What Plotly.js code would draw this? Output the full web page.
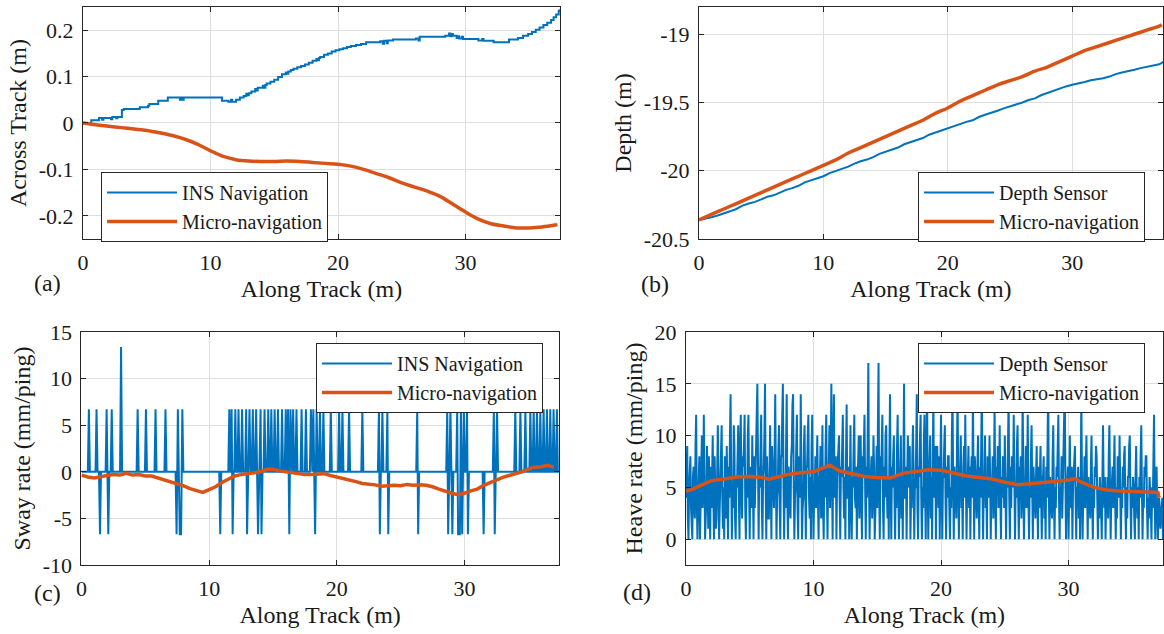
<!DOCTYPE html>
<html><head><meta charset="utf-8">
<script src="https://cdn.plot.ly/plotly-3.0.1.min.js"></script>
<style>html,body{margin:0;padding:0;background:#fff}#chart{width:1164px;height:634px}</style>
</head><body><div id="chart"></div>
<script>
// ---------- Panel (a): Across track ----------
const aInsX = [0,0.65,1.25,1.5,1.6,2.2,2.3,2.6,2.7,3.05,3.2,4.45,5.1,5.2,5.9,6.65,7.6,7.7,7.8,7.9,10.9,11.4,11.6,11.7,12.0,12.3,12.6,12.8,12.9,13.0,13.2,13.5,13.6,13.7,14.1,14.2,14.3,14.4,14.7,15.0,15.3,15.6,15.9,16.0,16.1,16.3,16.5,16.8,17.1,17.4,17.7,18.0,18.3,18.4,18.5,18.6,18.9,19.2,19.5,19.8,20.1,20.4,20.7,21.0,21.4,21.8,22.2,23.3,23.5,23.6,23.8,23.9,24.3,26.1,26.3,26.4,28.4,28.7,28.8,28.9,29.0,29.3,29.4,29.5,29.7,29.8,31.0,31.3,31.4,32.2,33.4,34.1,34.5,34.9,35.2,35.5,35.8,36.1,36.4,36.7,36.9,37.1,37.3,37.4];
const aInsY = [0,0.006,0.011,0.007,0.011,0.008,0.013,0.010,0.013,0.028,0.030,0.034,0.037,0.041,0.048,0.055,0.050,0.055,0.050,0.055,0.048,0.046,0.050,0.046,0.050,0.055,0.058,0.063,0.060,0.064,0.068,0.073,0.070,0.076,0.080,0.076,0.082,0.085,0.089,0.093,0.099,0.105,0.109,0.106,0.111,0.114,0.117,0.120,0.123,0.126,0.130,0.134,0.138,0.135,0.140,0.142,0.147,0.150,0.154,0.157,0.159,0.161,0.164,0.166,0.168,0.170,0.174,0.176,0.171,0.177,0.172,0.178,0.180,0.182,0.178,0.186,0.188,0.193,0.187,0.192,0.188,0.183,0.187,0.182,0.186,0.181,0.178,0.181,0.177,0.174,0.180,0.183,0.188,0.192,0.196,0.201,0.206,0.211,0.216,0.222,0.228,0.234,0.242,0.245];
const aMicroX = [0,1,2,3,4,5,6,7,8,9,10,11,12,13,14,15,16,17,18,19,20,21,22,23,24,25,26,27,28,29,30,31,32,33,34,35,36,37,37.2];
const aMicroY = [0,-0.004,-0.007,-0.010,-0.013,-0.016,-0.021,-0.027,-0.035,-0.046,-0.060,-0.072,-0.079,-0.082,-0.083,-0.083,-0.082,-0.083,-0.085,-0.087,-0.089,-0.093,-0.100,-0.109,-0.118,-0.129,-0.138,-0.147,-0.158,-0.175,-0.192,-0.207,-0.217,-0.222,-0.226,-0.226,-0.224,-0.220,-0.219];

// ---------- Panel (b): Depth ----------
const bSensorX = [0,0.5,1,1.5,2,2.5,3,3.5,4,4.5,5,5.5,6,6.5,7,7.5,8,8.5,9,9.5,10,10.5,11,11.5,12,12.5,13,13.5,14,14.5,15,15.5,16,16.5,17,17.5,18,18.5,19,19.5,20,20.5,21,21.5,22,22.5,23,23.5,24,24.5,25,25.5,26,26.5,27,27.5,28,28.5,29,29.5,30,30.5,31,31.5,32,32.5,33,33.5,34,34.5,35,35.5,36,36.5,37,37.4];
const bSensorY = [-20.36,-20.352,-20.34,-20.328,-20.31,-20.297,-20.28,-20.255,-20.24,-20.228,-20.21,-20.19,-20.18,-20.158,-20.14,-20.127,-20.11,-20.085,-20.07,-20.058,-20.04,-20.017,-20.0,-19.988,-19.97,-19.948,-19.93,-19.918,-19.90,-19.876,-19.86,-19.848,-19.83,-19.806,-19.79,-19.778,-19.76,-19.736,-19.72,-19.708,-19.69,-19.672,-19.66,-19.642,-19.63,-19.606,-19.59,-19.577,-19.56,-19.543,-19.53,-19.512,-19.50,-19.482,-19.47,-19.447,-19.43,-19.418,-19.40,-19.382,-19.37,-19.362,-19.35,-19.337,-19.33,-19.322,-19.31,-19.292,-19.28,-19.272,-19.26,-19.248,-19.24,-19.229,-19.22,-19.20];
const bMicroX = [0,1,2,3,4,5,6,7,8,9,10,11,12,13,14,15,16,17,18,19,20,21,22,23,24,25,26,27,28,29,30,31,32,33,34,35,36,37,37.2];
const bMicroY = [-20.36,-20.32,-20.28,-20.24,-20.20,-20.16,-20.12,-20.08,-20.04,-20.00,-19.96,-19.92,-19.87,-19.83,-19.79,-19.75,-19.71,-19.67,-19.63,-19.58,-19.54,-19.49,-19.45,-19.41,-19.37,-19.34,-19.31,-19.27,-19.24,-19.20,-19.16,-19.12,-19.09,-19.06,-19.03,-19.00,-18.97,-18.94,-18.93];

// ---------- Panel (c): Sway rate (INS events: position, value; baseline 0) ----------
const cInsEventX = [0.58,1.18,1.45,1.97,2.1,2.37,3.1,4.4,5.05,5.8,6.58,7.45,7.55,7.7,7.8,7.9,10.87,11.58,11.76,11.84,12.05,12.3,12.58,12.9,12.97,13.16,13.42,13.68,13.83,14.03,14.1,14.34,14.63,14.87,15.13,15.39,15.71,16.0,16.18,16.28,16.37,16.58,16.84,17.24,17.58,17.97,18.16,18.3,18.42,18.68,18.95,19.53,20.18,20.44,20.96,22.0,23.3,23.37,23.57,23.96,24.03,26.3,26.37,28.65,28.72,28.9,29.05,29.43,29.5,29.64,29.72,29.82,29.95,30.2,30.27,31.5,32.3,32.37,32.55,33.98,34.38,34.77,35.16,35.42,35.68,35.94,36.2,36.46,36.72,36.98,37.24];
const cInsEventV = [6.7,6.7,-6.7,6.7,-6.7,6.7,13.4,6.7,6.7,6.7,6.7,-6.7,6.7,-6.7,-6.7,6.7,-6.7,6.7,6.7,-6.7,6.7,6.7,6.7,6.7,-6.7,6.7,6.7,6.7,-6.7,6.7,-6.7,6.7,6.7,6.7,6.7,6.7,6.7,6.7,6.7,-6.7,6.7,6.7,6.7,6.7,6.7,6.7,6.7,-6.7,6.7,6.7,6.7,6.7,6.7,6.7,6.7,6.7,6.7,-6.7,6.7,6.7,-6.7,6.7,-6.7,6.7,-6.7,6.7,-6.7,6.7,-6.7,-6.7,6.7,-6.7,6.7,6.7,-6.7,-6.7,6.7,-6.7,6.7,6.7,6.7,6.7,6.7,6.7,6.7,6.7,6.7,6.7,6.7,6.7,6.7];
const cMicroX = [0,0.5,1,1.5,2,2.5,3,3.5,4,4.5,5,5.5,6,6.5,7,7.5,8,8.5,9,9.5,10,10.5,11,11.5,12,12.5,13,13.5,14,14.5,15,15.5,16,16.5,17,17.5,18,18.5,19,19.5,20,20.5,21,21.5,22,22.5,23,23.5,24,24.5,25,25.5,26,26.5,27,27.5,28,28.5,29,29.5,30,30.5,31,31.5,32,32.5,33,33.5,34,34.5,35,35.5,36,36.5,37];
const cMicroY = [-0.35,-0.55,-0.65,-0.5,-0.4,-0.3,-0.35,-0.15,-0.35,-0.3,-0.45,-0.45,-0.65,-0.85,-1.05,-1.3,-1.5,-1.8,-2.0,-2.2,-1.9,-1.6,-1.15,-0.8,-0.45,-0.3,-0.2,-0.1,0.0,0.25,0.3,0.1,0.0,-0.15,-0.25,-0.3,-0.3,-0.25,-0.2,-0.4,-0.55,-0.7,-0.85,-1.05,-1.25,-1.3,-1.4,-1.55,-1.5,-1.45,-1.5,-1.35,-1.45,-1.4,-1.45,-1.6,-1.85,-2.1,-2.3,-2.45,-2.3,-2.05,-1.85,-1.45,-1.15,-0.9,-0.6,-0.4,-0.2,0.0,0.3,0.5,0.55,0.7,0.5];

// ---------- Panel (d): Heave rate (depth sensor, one value per 0.05 m from 0 m; one row per metre) ----------
const dSensorStep = 0.05;
const dSensorY = [
 4,7,9,2,0,5,6,8,3,1,0,6,7,3,2,9,12,4,0,3,
 5,8,0,3,7,10,3,5,12,6,0,2,4,9,6,1,8,5,0,7,
 3,6,10,4,0,8,5,1,2,9,11,6,0,3,6,7,11,4,1,5,
 0,8,6,2,9,5,0,7,4,10,14,6,0,5,3,11,9,2,0,6,
 5,8,11,4,0,9,12,5,2,8,7,9,12,3,0,6,4,10,12,5,
 0,7,6,3,10,5,0,8,3,6,8,12,15,4,0,7,5,9,12,3,
 0,6,7,10,15,5,0,8,4,2,2,7,11,5,0,9,6,4,3,8,
 14,6,0,4,5,9,11,3,0,8,8,12,15,5,0,6,3,9,14,4,
 0,7,6,3,2,8,9,13,14,5,0,4,5,9,12,3,0,8,7,4,
 14,6,0,3,4,9,11,5,0,7,7,10,12,4,2,6,0,9,12,5,
 0,4,5,8,3,7,10,4,0,6,6,9,2,5,11,3,0,7,4,9,
 12,5,0,6,7,11,3,8,15,6,0,9,14,4,5,8,0,6,8,10,
 10,4,0,7,6,9,12,5,2,6,0,8,13,4,4,7,0,5,11,3,
 0,6,5,9,12,4,3,7,0,5,7,10,2,6,10,4,0,8,6,9,
 12,5,0,7,4,10,17,6,0,5,6,8,2,4,10,7,0,5,5,9,
 3,11,17,5,0,8,6,9,12,3,0,7,4,10,11,5,2,6,0,8,
 14,5,0,7,5,8,10,4,0,6,3,9,12,5,0,4,7,10,2,6,
 0,9,15,4,4,7,0,6,10,5,6,9,0,4,3,8,11,6,0,5,
 5,9,14,3,0,7,6,10,12,4,0,5,3,9,12,5,0,8,15,6,
 0,5,7,10,2,6,0,8,14,4,5,9,0,6,9,5,3,8,0,7,
 12,5,0,6,6,9,11,4,0,7,4,8,8,3,0,5,3,10,14,6,
 0,7,5,3,2,9,14,5,0,6,7,10,3,5,0,7,9,4,12,6,
 0,5,6,9,3,7,0,6,8,4,14,6,0,8,5,3,2,7,10,4,
 0,7,4,9,15,5,0,6,6,10,3,5,0,8,7,4,10,6,0,5,
 5,8,2,6,13,4,0,7,6,9,3,5,11,4,0,6,4,8,7,3,
 10,5,0,6,5,9,14,4,0,7,3,8,7,5,12,6,0,5,4,9,
 11,4,0,7,6,8,2,5,14,6,0,4,5,9,3,6,12,4,0,5,
 4,8,11,5,0,7,5,3,2,6,9,4,0,7,3,6,9,4,0,6,
 6,8,2,5,0,7,4,9,15,5,0,6,5,3,2,8,11,4,0,5,
 3,7,6,9,12,4,0,5,4,8,2,5,8,10,15,6,0,4,5,7,
 0,6,10,4,3,7,0,5,6,8,9,4,0,5,4,7,2,6,0,5,
 14,6,0,4,5,8,3,7,10,5,0,6,4,3,2,7,10,4,0,5,
 3,7,6,9,8,4,0,5,2,6,5,3,0,7,11,5,3,6,0,4,
 4,6,2,8,11,5,0,4,5,7,3,6,10,4,0,5,2,8,6,4,
 10,5,0,4,3,7,5,8,9,3,0,5,2,6,6,9,10,4,0,5,
 3,6,5,2,0,6,9,4,2,5,0,6,4,8,11,5,0,4,3,7,
 6,8,8,3,0,4,2,6,5,3,0,5,3,8,12,4,0,5,7,3,
 0,2,4,3,1,2,3,4,0
];
const dMicroX = [0,0.5,1,2,3,4,5,6,6.5,7,8,9,10,11,11.3,12,13,14,15,16,17,18,19,20,21,22,23,24,25,26,27,28,29,30,30.5,31,32,33,34,35,36,37,37.1];
const dMicroY = [4.65,4.8,5.1,5.65,5.8,6.0,6.05,5.95,5.8,5.95,6.25,6.4,6.5,7.0,7.15,6.6,6.35,6.05,5.95,5.9,6.35,6.55,6.7,6.65,6.35,6.1,5.95,5.8,5.5,5.25,5.35,5.45,5.6,5.7,5.85,5.5,5.0,4.75,4.65,4.6,4.6,4.5,4.0];

// ---------- Tick labels ----------
const xTickVals = [0,10,20,30];
const xTickText = ['0','10','20','30'];
const aTickVals = [-0.2,-0.1,0,0.1,0.2];
const aTickText = ['-0.2','-0.1','0','0.1','0.2'];
const bTickVals = [-20.5,-20,-19.5,-19];
const bTickText = ['-20.5','-20','-19.5','-19'];
const cTickVals = [-10,-5,0,5,10,15];
const cTickText = ['-10','-5','0','5','10','15'];
const dTickVals = [0,5,10,15,20];
const dTickText = ['0','5','10','15','20'];

// build spike polyline from events (baseline 0 between events)
function spikeLine(ex, ev, xEnd) {
  const hw = 0.08, xs = [0], ys = [0];
  for (let i = 0; i < ex.length; i++) {
    if (i === 0 || ex[i] - ex[i-1] > 2*hw) { xs.push(ex[i]-hw); ys.push(0); }
    xs.push(ex[i]); ys.push(ev[i]);
    if (i === ex.length-1 || ex[i+1] - ex[i] > 2*hw) { xs.push(ex[i]+hw); ys.push(0); }
  }
  xs.push(xEnd); ys.push(0);
  return {xs, ys};
}
const cIns = spikeLine(cInsEventX, cInsEventV, 37.4);
const dSensorX = dSensorY.map((v, i) => +(i*dSensorStep).toFixed(2));

const BLUE = '#0072BD', ORANGE = '#D95319';
const FONT = '"Liberation Serif", "Times New Roman", serif';
const TXT = '#1a1a1a';

const traces = [
  {x: aInsX, y: aInsY, type:'scatter', mode:'lines', name:'INS Navigation', line:{color:BLUE, width:2, shape:'hv'}, xaxis:'x', yaxis:'y', legend:'legend'},
  {x: aMicroX, y: aMicroY, type:'scatter', mode:'lines', name:'Micro-navigation', line:{color:ORANGE, width:3.5, shape:'spline'}, xaxis:'x', yaxis:'y', legend:'legend'},
  {x: bSensorX, y: bSensorY, type:'scatter', mode:'lines', name:'Depth Sensor', line:{color:BLUE, width:2}, xaxis:'x2', yaxis:'y2', legend:'legend2'},
  {x: bMicroX, y: bMicroY, type:'scatter', mode:'lines', name:'Micro-navigation', line:{color:ORANGE, width:3.5, shape:'spline'}, xaxis:'x2', yaxis:'y2', legend:'legend2'},
  {x: cIns.xs, y: cIns.ys, type:'scatter', mode:'lines', name:'INS Navigation', line:{color:BLUE, width:2}, xaxis:'x3', yaxis:'y3', legend:'legend3'},
  {x: cMicroX, y: cMicroY, type:'scatter', mode:'lines', name:'Micro-navigation', line:{color:ORANGE, width:3.5}, xaxis:'x3', yaxis:'y3', legend:'legend3'},
  {x: dSensorX, y: dSensorY, type:'scatter', mode:'lines', name:'Depth Sensor', line:{color:BLUE, width:2}, xaxis:'x4', yaxis:'y4', legend:'legend4'},
  {x: dMicroX, y: dMicroY, type:'scatter', mode:'lines', name:'Micro-navigation', line:{color:ORANGE, width:3.5}, xaxis:'x4', yaxis:'y4', legend:'legend4'}
];

function xax(domain, anchor, range) {
  return {domain, anchor, range, tickvals:xTickVals, ticktext:xTickText, ticks:'inside', ticklen:5, tickcolor:'#262626',
    showline:true, linecolor:'#262626', linewidth:1, mirror:'ticks', showgrid:true, gridcolor:'#dedede', zeroline:false,
    tickfont:{family:FONT, size:22, color:TXT}, ticklabelstandoff:4,
    title:{text:'Along Track (m)', font:{family:FONT, size:24, color:TXT}, standoff:5}};
}
function yax(domain, anchor, range, tv, tt, title) {
  return {domain, anchor, range, tickvals:tv, ticktext:tt, ticks:'inside', ticklen:5, tickcolor:'#262626',
    showline:true, linecolor:'#262626', linewidth:1, mirror:'ticks', showgrid:true, gridcolor:'#dedede', zeroline:false,
    tickfont:{family:FONT, size:22, color:TXT}, ticklabelstandoff:4,
    title:{text:title, font:{family:FONT, size:24, color:TXT}, standoff:5}};
}
function leg(x, y) {
  return {x, y, xref:'paper', yref:'paper', xanchor:'left', yanchor:'top', bgcolor:'#ffffff', bordercolor:'#262626', borderwidth:1,
    font:{family:FONT, size:20, color:TXT}, itemwidth:70, tracegroupgap:0};
}

const layout = {
  width:1164, height:634, margin:{l:0, r:0, t:0, b:0}, paper_bgcolor:'#ffffff', plot_bgcolor:'#ffffff',
  showlegend:true,
  xaxis: xax([0.0713,0.4811], 'y', [0,37.4]),
  yaxis: yax([0.623,0.989], 'x', [-0.25,0.25], aTickVals, aTickText, 'Across Track (m)'),
  xaxis2: xax([0.6005,0.9991], 'y2', [0,37.3]),
  yaxis2: yax([0.623,0.989], 'x2', [-20.5,-18.8], bTickVals, bTickText, 'Depth (m)'),
  xaxis3: xax([0.0700,0.4802], 'y3', [0,37.4]),
  yaxis3: yax([0.1088,0.4763], 'x3', [-10,15], cTickVals, cTickText, 'Sway rate (mm/ping)'),
  xaxis4: xax([0.5893,0.9991], 'y4', [0,37.4]),
  yaxis4: yax([0.1088,0.4763], 'x4', [-2.5,20], dTickVals, dTickText, 'Heave rate (mm/ping)'),
  legend: leg(0.0868, 0.7287),
  legend2: leg(0.7887, 0.7287),
  legend3: leg(0.2715, 0.459),
  legend4: leg(0.7887, 0.459),
  annotations: [
    {text:'(a)', x:32/1164, y:1-283/634, xref:'paper', yref:'paper', showarrow:false, font:{family:FONT, size:24, color:TXT}},
    {text:'(b)', x:655/1164, y:1-284/634, xref:'paper', yref:'paper', showarrow:false, font:{family:FONT, size:24, color:TXT}},
    {text:'(c)', x:32/1164, y:1-608/634, xref:'paper', yref:'paper', showarrow:false, font:{family:FONT, size:24, color:TXT}},
    {text:'(d)', x:637/1164, y:1-607/634, xref:'paper', yref:'paper', showarrow:false, font:{family:FONT, size:24, color:TXT}}
  ]
};

Plotly.newPlot('chart', traces, layout, {staticPlot:true, displayModeBar:false});
</script></body></html>
